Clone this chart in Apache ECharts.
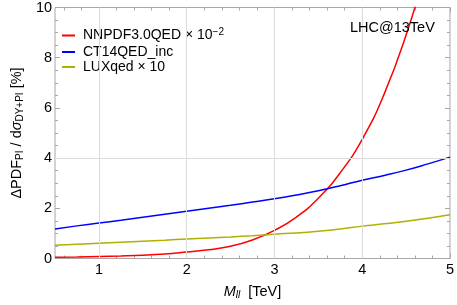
<!DOCTYPE html>
<html>
<head>
<meta charset="utf-8">
<script src="https://cdn.jsdelivr.net/npm/echarts@6/dist/echarts.min.js"></script>
<style>
html,body{margin:0;padding:0;background:#fff;}
#c{width:457px;height:305px;}
</style>
</head>
<body>
<div id="c"></div>
<script>
// ---- data ----
const massTeV = [0.5,0.75,1.0,1.25,1.5,1.75,2.0,2.25,2.5,2.75,3.0,3.25,3.5,3.75,4.0,4.25,4.5,4.75,5.0];
const nnpdf   = [0.05,0.06,0.08,0.10,0.13,0.18,0.26,0.35,0.49,0.74,1.12,1.65,2.40,3.42,4.75,6.55,8.90,11.8,null];
const ct14    = [1.18,1.30,1.41,1.52,1.64,1.76,1.88,2.00,2.12,2.25,2.38,2.53,2.70,2.90,3.12,3.31,3.52,3.77,4.04];
const luxqed  = [0.53,0.57,0.61,0.65,0.69,0.73,0.78,0.82,0.86,0.91,0.97,1.02,1.09,1.18,1.29,1.38,1.48,1.60,1.74];
const seriesNames = ['NNPDF3.0QED × 10^-2','CT14QED_inc','LUXqed × 10'];
const xMajorTicks = [1,2,3,4,5];
const xMinorTicks = [0.6,0.8,1.2,1.4,1.6,1.8,2.2,2.4,2.6,2.8,3.2,3.4,3.6,3.8,4.2,4.4,4.6,4.8];
const gridX = [1,2,3,4];
const gridY = [4];

const pairs = arr => massTeV.map((x,i)=>[x,arr[i]]);
const FONT = 'Liberation Sans';
const frameCol = '#a8a8a8';

const chart = echarts.init(document.getElementById('c'), null, {renderer:'canvas'});
const baseX = {
  type:'value', min:0.5, max:5, gridIndex:0,
  axisLine:{show:false}, splitLine:{show:false}
};
const option = {
  animation:false,
  textStyle:{fontFamily:FONT},
  grid:{left:37, right:4, top:6, bottom:42, show:true, borderColor:frameCol, borderWidth:1, backgroundColor:'transparent'},
  title:{text:'LHC@13TeV', left:345, top:15, textStyle:{fontFamily:FONT, fontSize:14.5, fontWeight:'normal', color:'#000'}},
  legend:{
    orient:'vertical', left:57, top:22, itemWidth:13, itemHeight:2, itemGap:1, icon:'rect',
    data:seriesNames,
    formatter: n => n==='NNPDF3.0QED × 10^-2' ? 'NNPDF3.0QED × 10{sup|−2}' : n,
    textStyle:{fontFamily:FONT, fontSize:14, color:'#000', lineHeight:14, height:14, padding:[0,0,0,3],
      rich:{sup:{fontFamily:FONT, fontSize:10, lineHeight:14, padding:[0,0,7,0]}}}
  },
  xAxis:[
    Object.assign({}, baseX, {
      position:'bottom',
      axisTick:{show:true, inside:true, length:5, customValues:xMajorTicks, lineStyle:{color:frameCol}},
      axisLabel:{show:true, customValues:xMajorTicks, margin:4, fontSize:14.5, color:'#000', fontFamily:FONT},
      name:'{it|M}{sub|ll}  [TeV]', nameLocation:'middle', nameGap:24,
      nameTextStyle:{fontFamily:FONT, fontSize:14.5, color:'#000',
        rich:{it:{fontStyle:'italic', fontSize:14.5, fontFamily:FONT, lineHeight:18},
              sub:{fontStyle:'italic', fontSize:10, fontFamily:FONT, lineHeight:18, padding:[7,0,0,0]}}}
    }),
    Object.assign({}, baseX, {
      position:'bottom',
      axisTick:{show:true, inside:true, length:3, customValues:xMinorTicks, lineStyle:{color:frameCol}},
      axisLabel:{show:false}
    }),
    Object.assign({}, baseX, {
      position:'top',
      axisTick:{show:true, inside:true, length:5, customValues:xMajorTicks, lineStyle:{color:frameCol}},
      axisLabel:{show:false}
    }),
    Object.assign({}, baseX, {
      position:'top',
      axisTick:{show:true, inside:true, length:3, customValues:xMinorTicks, lineStyle:{color:frameCol}},
      axisLabel:{show:false}
    })
  ],
  yAxis:[
    {
      type:'value', min:0, max:10, interval:2, position:'left',
      axisLine:{show:false}, splitLine:{show:false},
      axisTick:{show:true, inside:true, length:5, lineStyle:{color:frameCol}},
      minorTick:{show:true, splitNumber:4, length:3, lineStyle:{color:frameCol}},
      axisLabel:{fontSize:14.5, color:'#000', fontFamily:FONT, margin:3},
      name:'ΔPDF{sub|PI} / d{it|σ}{sub|DY+PI} [%]', nameLocation:'middle', nameGap:20,
      nameTextStyle:{fontFamily:FONT, fontSize:14.5, color:'#000',
        rich:{it:{fontStyle:'italic', fontSize:14.5, fontFamily:FONT, lineHeight:18},
              sub:{fontSize:10, fontFamily:FONT, lineHeight:18, padding:[7,0,0,0]}}}
    },
    {
      type:'value', min:0, max:10, interval:2, position:'right',
      axisLine:{show:false}, splitLine:{show:false},
      axisTick:{show:true, inside:true, length:5, lineStyle:{color:frameCol}},
      minorTick:{show:true, splitNumber:4, length:3, lineStyle:{color:frameCol}},
      axisLabel:{show:false}
    }
  ],
  series:[
    {
      type:'line', data:[], silent:true, z:1,
      markLine:{silent:true, symbol:'none', label:{show:false},
        lineStyle:{color:'#dcdcdc', type:'solid', width:1},
        data:[...gridX.map(v=>({xAxis:v})), ...gridY.map(v=>({yAxis:v}))]}
    },
    {name:seriesNames[0], type:'line', data:pairs(nnpdf), smooth:true, showSymbol:false, symbol:'none', color:'#ff0000', lineStyle:{width:1.5}, z:3},
    {name:seriesNames[1], type:'line', data:pairs(ct14), smooth:true, showSymbol:false, symbol:'none', color:'#0000ff', lineStyle:{width:1.5}, z:3},
    {name:seriesNames[2], type:'line', data:pairs(luxqed), smooth:true, showSymbol:false, symbol:'none', color:'#b0b000', lineStyle:{width:1.5}, z:3}
  ]
};
chart.setOption(option);
</script>
</body>
</html>
